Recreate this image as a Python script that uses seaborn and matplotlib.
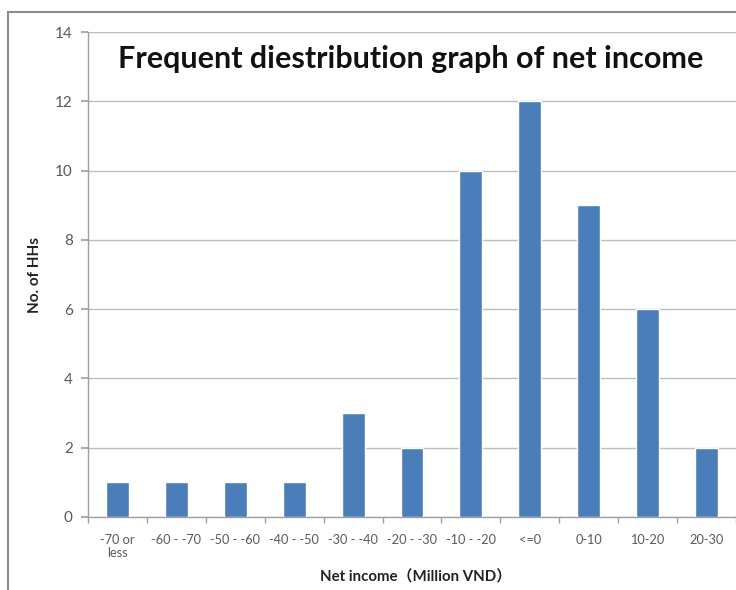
import matplotlib
matplotlib.use("Agg")
import matplotlib.pyplot as plt
from matplotlib.patches import Rectangle
import seaborn as sns
import pandas as pd

categories = ["-70 or\nless", "-60 - -70", "-50 - -60", "-40 - -50", "-30 - -40",
              "-20 - -30", "-10 - -20", "<=0", "0-10", "10-20", "20-30"]
counts = [1, 1, 1, 1, 3, 2, 10, 12, 9, 6, 2]
yticks = [0, 2, 4, 6, 8, 10, 12, 14]

df = pd.DataFrame({"cat": categories, "n": counts})

sns.set_theme(style="white")
plt.rcParams['font.family'] = ['Lato', 'Noto Sans CJK JP', 'DejaVu Sans']

W, H = 736, 590
fig = plt.figure(figsize=(W / 100, H / 100), dpi=100)
ax = fig.add_axes([88 / W, (H - 517) / H, 1 - 88 / W, (517 - 32) / H])

sns.barplot(data=df, x="cat", y="n", color="#4A7EBB", saturation=1, width=0.39, ax=ax, zorder=3)

ax.set_xlim(-0.5, 10.36)
ax.set_ylim(0, 14)
ax.set_yticks(yticks)
ax.yaxis.grid(True, color="#BDBDBD", linewidth=1.0, zorder=0)
ax.set_axisbelow(True)
for s in ["top", "right"]:
    ax.spines[s].set_visible(False)
for s in ["left", "bottom"]:
    ax.spines[s].set_color("#A0A0A0")
    ax.spines[s].set_linewidth(1.0)

ax.tick_params(axis="y", which="major", length=5, color="#A0A0A0", labelsize=11, labelcolor="#595959", left=True, pad=6)
ax.tick_params(axis="x", which="major", length=0, labelsize=9.2, labelcolor="#595959", pad=12)
ax.set_xticks(range(len(categories)))
ax.set_xticks([i + 0.5 for i in range(-1, len(categories))], minor=True)
ax.tick_params(axis="x", which="minor", length=4, color="#A0A0A0", bottom=True)
for lab in ax.get_xticklabels():
    lab.set_linespacing(1.15)
ax.set_xlabel("")
ax.set_ylabel("")

fig.text(411 / W, 1 - 59 / H, "Frequent diestribution graph of net income",
         ha="center", va="center", fontsize=22, fontweight="bold", color="#111111")
fig.text(35 / W, 1 - 275 / H, "No. of HHs", rotation=90, ha="center", va="center",
         fontsize=11, fontweight="bold", color="#222222")
fig.text(416 / W, 1 - 577 / H, "Net income（Million VND）", ha="center", va="center",
         fontsize=10.8, fontweight="bold", color="#222222")

fig.add_artist(Rectangle((8 / W, -0.05), 1.2, 1 - 12 / H + 0.05, transform=fig.transFigure,
                         fill=False, edgecolor="#8C8C8C", linewidth=1.5, clip_on=False))

fig.savefig("out.png", dpi=100)
